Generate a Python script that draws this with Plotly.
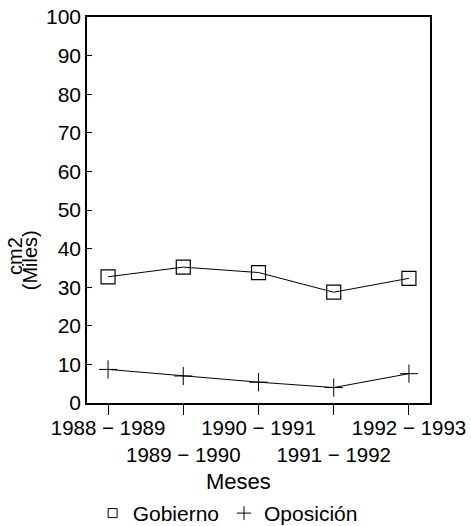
import plotly.graph_objects as go

periods = ["1988 − 1989", "1989 − 1990", "1990 − 1991", "1991 − 1992", "1992 − 1993"]
gobierno = [32.7, 35.2, 33.8, 28.7, 32.3]
oposicion = [8.7, 7.0, 5.4, 4.0, 7.6]
y_ticks = [0, 10, 20, 30, 40, 50, 60, 70, 80, 90, 100]

xpos = list(range(len(periods)))
ticktext = [p if i % 2 == 0 else "<br>" + p for i, p in enumerate(periods)]

FONT = "Liberation Sans, Arial, Helvetica, sans-serif"

fig = go.Figure()
fig.add_trace(go.Scatter(
    x=xpos, y=gobierno, name="Gobierno", mode="lines+markers", showlegend=False,
    line=dict(color="black", width=1),
    marker=dict(symbol="square-open", size=14, color="black", line=dict(width=1.2, color="black")),
))
fig.add_trace(go.Scatter(
    x=xpos, y=oposicion, name="Oposición", mode="lines+markers", showlegend=False,
    line=dict(color="black", width=1),
    marker=dict(symbol="cross-thin-open", size=13, color="black", line=dict(width=1, color="black")),
))
# legend-only entries with small symbols, as in the reference
fig.add_trace(go.Scatter(
    x=[None], y=[None], name="Gobierno", mode="markers",
    marker=dict(symbol="square-open", size=9, color="black", line=dict(width=1, color="black")),
))
fig.add_trace(go.Scatter(
    x=[None], y=[None], name="Oposición", mode="markers",
    marker=dict(symbol="cross-thin-open", size=10, color="black", line=dict(width=1, color="black")),
))

fig.update_layout(
    width=471, height=526,
    margin=dict(l=87, r=41, t=17, b=123, autoexpand=False),
    paper_bgcolor="white", plot_bgcolor="white",
    font=dict(family=FONT, size=21, color="black"),
    showlegend=True,
    legend=dict(orientation="h", x=0.41, xanchor="center", y=-0.233, yanchor="top",
                font=dict(size=21), itemwidth=30, tracegroupgap=0,
                bgcolor="rgba(0,0,0,0)"),
    xaxis=dict(
        range=[-0.28, 4.28], tickmode="array", tickvals=xpos, ticktext=ticktext,
        ticks="outside", ticklen=10, tickwidth=1.2, tickcolor="black", tickangle=0,
        ticklabelstandoff=-4,
        showline=True, linecolor="black", linewidth=1.5, mirror=True,
        showgrid=False, zeroline=False, tickfont=dict(size=20.5), automargin=False,
    ),
    xaxis2=dict(
        overlaying="x", anchor="y", side="bottom", matches="x",
        range=[-0.28, 4.28], tickmode="array", tickvals=[xpos[1], xpos[3]],
        ticks="outside", ticklen=27, tickwidth=1.2, tickcolor="black",
        showticklabels=False, showline=False, showgrid=False, zeroline=False,
        automargin=False,
    ),
    yaxis=dict(
        range=[0, 100], tickmode="array", tickvals=y_ticks,
        ticks="inside", ticklen=5, tickwidth=1, tickcolor="black",
        showline=True, linecolor="black", linewidth=1.5, mirror=True,
        showgrid=False, zeroline=False, tickfont=dict(size=21), automargin=False,
    ),
    annotations=[
        dict(text="Meses", xref="paper", yref="paper", x=0.443, y=-0.165,
             xanchor="center", yanchor="top", showarrow=False, font=dict(size=22)),
        dict(text="cm2", xref="paper", yref="paper", x=-0.21, y=0.381,
             xanchor="center", yanchor="middle", textangle=-90, showarrow=False,
             font=dict(size=20)),
        dict(text="(Miles)", xref="paper", yref="paper", x=-0.166, y=0.37,
             xanchor="center", yanchor="middle", textangle=-90, showarrow=False,
             font=dict(size=20)),
    ],
)

fig.write_html("out.html", config={"displayModeBar": False},
               post_script="document.body.style.margin='0';document.body.style.overflow='hidden';")
